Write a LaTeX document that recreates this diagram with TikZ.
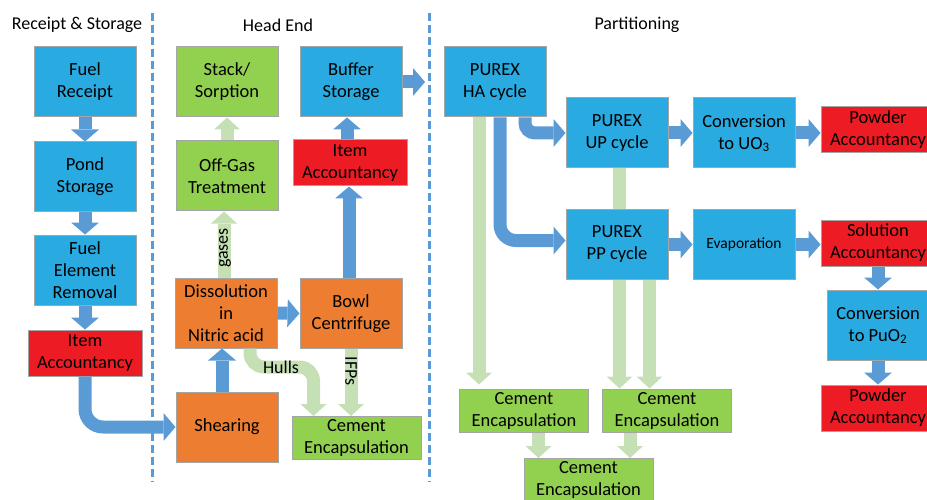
\documentclass[tikz,border=0pt]{standalone}
\usepackage{fontspec}
\setmainfont{Carlito}
\usetikzlibrary{arrows.meta}
\definecolor{boxblue}{RGB}{41,171,226}
\definecolor{boxred}{RGB}{237,28,36}
\definecolor{boxorange}{RGB}{237,125,49}
\definecolor{boxgreen}{RGB}{146,208,80}
\definecolor{arrowblue}{RGB}{91,155,213}
\definecolor{arrowgreen}{RGB}{197,224,180}
\definecolor{boxborder}{RGB}{165,165,165}
\begin{document}
\begin{tikzpicture}[x=1pt,y=-1pt,
  box/.style={draw=boxborder, line width=1pt, inner sep=0pt, align=center,
    font=\fontsize{18.5}{22}\selectfont, text=black},
  bluebox/.style={box, fill=boxblue, minimum width=102pt, minimum height=70pt},
  greenbox/.style={box, fill=boxgreen, minimum width=102pt, minimum height=70pt},
  orangebox/.style={box, fill=boxorange, minimum width=102pt, minimum height=70pt},
  redbox/.style={box, fill=boxred, minimum width=114pt, minimum height=46pt},
  cementbox/.style={box, fill=boxgreen, minimum width=129pt, minimum height=43pt},
  title/.style={font=\fontsize{18}{22}\selectfont, inner sep=0pt},
  lab/.style={font=\fontsize{18}{20}\selectfont, inner sep=0pt, text=black},
  barrow/.style={draw=arrowblue, line width=13pt, -{Triangle[width=28pt,length=12pt,line width=0pt]}},
  garrow/.style={draw=arrowgreen, line width=13pt, -{Triangle[width=26pt,length=12pt,line width=0pt]}},
  gline/.style={draw=arrowgreen, line width=13pt},
  sepline/.style={draw=arrowblue, line width=3pt, dash pattern=on 8pt off 4pt}
]
\useasboundingbox (0,0) rectangle (927,500);

% titles
\node[title] (t1) at (77,25) {Receipt \& Storage};
\node[title] (t2) at (278,25) {Head End};
\node[title] (t3) at (637,25) {Partitioning};

% separators
\coordinate (s1t) at (152,13);
\coordinate (s1b) at (152,482);
\coordinate (s2t) at (429,13);
\coordinate (s2b) at (429,482);
\draw[sepline] (s1t) -- (s1b);
\draw[sepline] (s2t) -- (s2b);

% receipt & storage
\node[bluebox] (receipt) at (85,82) {Fuel\\Receipt};
\node[bluebox] (pond) at (85,177) {Pond\\Storage};
\node[bluebox] (removal) at (85,270) {Fuel\\Element\\Removal};
\node[redbox] (itemL) at (85,353) {Item\\Accountancy};

% head end
\node[greenbox] (stack) at (227,82) {Stack/\\Sorption};
\node[greenbox] (offgas) at (227,176) {Off-Gas\\Treatment};
\node[bluebox] (buffer) at (351,82) {Buffer\\Storage};
\node[redbox] (itemH) at (350,163) {Item\\Accountancy};
\node[orangebox] (diss) at (226,313) {Dissolution\\in\\Nitric acid};
\node[orangebox] (bowl) at (351,313.5) {Bowl\\Centrifuge};
\node[orangebox] (shear) at (227,427) {Shearing};
\node[cementbox] (cemH) at (356.5,438) {Cement\\Encapsulation};
\coordinate (bufout) at (425,82);

% partitioning
\node[bluebox] (ha) at (495,82) {PUREX\\HA cycle};
\node[bluebox] (up) at (617,133) {PUREX\\UP cycle};
\node[bluebox] (conv) at (744,133) {Conversion\\to UO\textsubscript{3}};
\node[redbox] (powA) at (878,129.5) {Powder\\Accountancy};
\node[bluebox, minimum height=69pt] (pp) at (617,244.5) {PUREX\\PP cycle};
\node[bluebox, minimum height=69pt, font=\fontsize{15.5}{19}\selectfont] (evap) at (744,244.5) {Evaporation};
\node[redbox] (sol) at (878,243) {Solution\\Accountancy};
\node[bluebox] (puo) at (878,325) {Conversion\\to PuO\textsubscript{2}};
\node[redbox] (powB) at (878,408) {Powder\\Accountancy};
\node[cementbox] (cemL) at (524,410.5) {Cement\\Encapsulation};
\node[cementbox] (cemM) at (667,410.5) {Cement\\Encapsulation};
\node[cementbox] (cemB) at (588.5,480) {Cement\\Encapsulation};

% blue arrows
\draw[barrow] (receipt.south) -- (pond.north);
\draw[barrow] (pond.south) -- (removal.north);
\draw[barrow] (removal.south) -- (itemL.north);
\draw[barrow, rounded corners=18pt] (itemL.south) |- (shear.west);
\draw[barrow] ([xshift=-5pt]shear.north) -- ([xshift=-5pt]shear.north |- diss.south);
\draw[barrow] (diss.east) -- (bowl.west);
\draw[barrow] ([xshift=-2pt]bowl.north) -- ([xshift=-2pt]bowl.north |- itemH.south);
\draw[barrow] ([xshift=-3pt]itemH.north) -- ([xshift=-3pt]itemH.north |- buffer.south);
\draw[barrow] (buffer.east) -- (bufout);
\draw[barrow, rounded corners=10pt] ([xshift=30pt]ha.south) |- (up.west);
\draw[barrow, rounded corners=16pt] ([xshift=5pt]ha.south) |- ([yshift=4pt]pp.west);
\draw[barrow] (up.east) -- (conv.west);
\draw[barrow] (conv.east) -- (conv.east -| powA.west);
\draw[barrow] (pp.east) -- (evap.west);
\draw[barrow] (evap.east) -- (evap.east -| sol.west);
\draw[barrow] (sol.south) -- (puo.north);
\draw[barrow] (puo.south) -- (powB.north);

% green arrows
\draw[garrow] (offgas.north) -- (stack.south);
\draw[garrow] ([xshift=-2pt]diss.north) -- ([xshift=-2pt]diss.north |- offgas.south);
\node[lab, rotate=90] (gases) at (225,248) {gases};
\draw[garrow, rounded corners=14pt] ([xshift=24pt]diss.south) |- ([xshift=-43pt,yshift=49pt]cemH.north) -- ([xshift=-43pt]cemH.north);
\node[lab] (hulls) at (281,367) {Hulls};
\draw[garrow] (bowl.south) -- (bowl.south |- cemH.north);
\node[lab, rotate=-90] (ifps) at (351,371) {IFPs};
\draw[garrow, shorten >=4pt] ([xshift=-16pt]ha.south) -- ([xshift=-16pt]ha.south |- cemL.north);
\draw[gline] ([xshift=2.5pt]up.south) -- ([xshift=2.5pt]up.south |- pp.north);
\draw[garrow] ([xshift=2.5pt]pp.south) -- ([xshift=2.5pt]pp.south |- cemM.north);
\draw[garrow] ([xshift=32.5pt]pp.south) -- ([xshift=32.5pt]pp.south |- cemM.north);
\draw[garrow] ([xshift=14.5pt]cemL.south) -- ([xshift=14.5pt]cemL.south |- cemB.north);
\draw[garrow] ([xshift=-37pt]cemM.south) -- ([xshift=-37pt]cemM.south |- cemB.north);
\end{tikzpicture}
\end{document}
